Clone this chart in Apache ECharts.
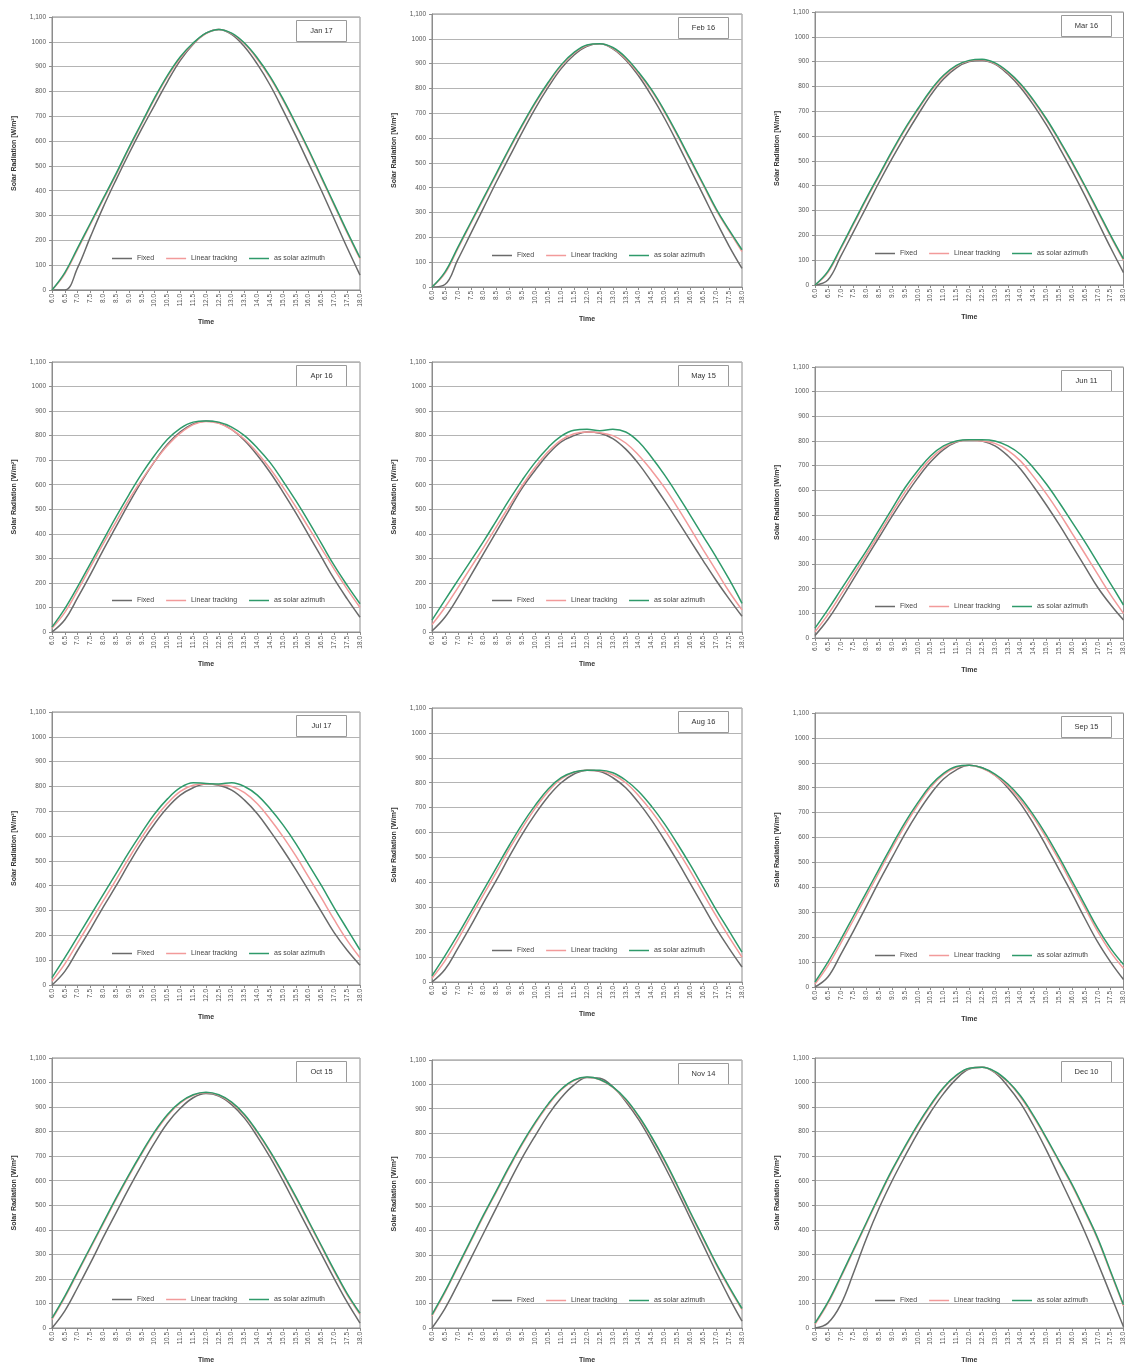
<!DOCTYPE html>
<html>
<head>
<meta charset="utf-8">
<script src="https://cdn.jsdelivr.net/npm/echarts@6/dist/echarts.min.js"></script>
<style>
html,body{margin:0;padding:0;background:#fff;}
#chart{width:1127px;height:1365px;}
</style>
</head>
<body>
<div id="chart"></div>
<script>
// ---- data ----
const times = ['6.0','6.5','7.0','7.5','8.0','8.5','9.0','9.5','10.0','10.5','11.0','11.5','12.0','12.5','13.0','13.5','14.0','14.5','15.0','15.5','16.0','16.5','17.0','17.5','18.0'];
const monthLabels = ['Jan 17','Feb 16','Mar 16','Apr 16','May 15','Jun 11','Jul 17','Aug 16','Sep 15','Oct 15','Nov 14','Dec 10'];
const seriesNames = ['Fixed','Linear tracking','as solar azimuth'];
const yTickLabels = ['0','100','200','300','400','500','600','700','800','900','1000','1,100'];

const fixedJan   = [0,0,90,215,335,445,550,650,745,840,925,990,1035,1050,1030,980,910,825,725,620,510,400,285,170,60];
const linearJan  = [0,65,165,265,365,465,570,670,770,860,935,992,1033,1050,1033,992,930,855,765,665,560,450,340,230,125];
const azimuthJan = [0,70,170,270,370,470,575,675,775,865,940,995,1035,1050,1035,995,935,860,770,670,565,455,345,235,130];

const fixedFeb   = [0,10,110,215,320,425,525,625,720,805,880,935,970,980,960,915,850,770,680,580,475,370,265,165,75];
const linearFeb  = [0,55,155,255,355,455,555,650,740,820,890,942,973,980,962,920,860,790,705,610,510,410,310,225,143];
const azimuthFeb = [0,60,160,260,360,460,560,655,745,825,895,945,975,980,965,925,865,795,710,615,515,415,315,230,150];

const fixedMar   = [0,20,115,215,315,415,510,600,685,765,830,875,900,905,890,850,795,725,645,555,460,360,255,150,50];
const linearMar  = [0,50,145,245,345,440,535,625,705,780,840,882,903,908,892,856,805,740,665,580,490,395,295,195,100];
const azimuthMar = [0,55,150,250,350,445,540,630,710,785,845,885,905,910,895,860,810,745,670,585,495,400,300,200,105];

const fixedApr   = [0,50,140,235,335,430,525,615,695,765,815,848,860,852,825,780,720,650,570,485,395,305,215,135,60];
const linearApr  = [15,80,170,265,360,450,540,620,695,760,810,845,858,850,825,785,730,665,590,510,425,340,255,175,100];
const azimuthApr = [20,95,185,280,375,470,560,645,720,785,830,855,860,855,835,800,750,690,615,535,450,360,270,190,115];

const fixedMay   = [4,60,140,230,320,410,500,588,660,725,775,800,815,810,788,745,685,612,535,455,372,290,210,135,64];
const linearMay  = [30,100,180,262,345,430,515,598,672,735,782,808,815,812,800,770,720,658,588,508,422,335,250,165,90];
const azimuthMay = [48,130,210,290,370,455,540,620,692,752,798,822,826,820,826,815,775,712,640,560,475,390,305,215,117];

const fixedJun   = [10,75,155,240,325,410,495,575,650,715,765,795,805,800,780,740,685,615,540,460,375,290,205,135,73];
const linearJun  = [25,95,175,258,340,425,510,592,665,728,772,797,803,800,790,762,718,655,585,508,425,342,258,175,100];
const azimuthJun = [40,115,195,275,355,440,525,610,680,740,780,800,805,805,800,780,745,690,625,550,470,390,305,220,134];

const fixedJul   = [0,55,140,225,315,400,490,575,650,715,765,795,810,805,785,745,690,620,545,465,380,295,210,140,80];
const linearJul  = [15,85,170,255,340,425,512,595,670,732,780,805,810,807,800,775,730,668,598,520,435,350,262,180,110];
const azimuthJul = [30,110,195,280,365,450,535,615,690,750,795,815,812,810,815,800,765,710,645,570,485,400,310,225,141];

const fixedAug   = [0,50,135,225,320,410,505,595,675,745,800,835,850,845,820,780,720,650,570,485,395,305,215,135,60];
const linearAug  = [15,85,170,262,352,442,535,620,698,765,815,842,850,848,832,800,748,685,612,530,445,355,265,180,100];
const azimuthAug = [25,105,190,280,370,460,550,635,710,775,820,843,850,850,840,810,765,705,635,555,470,380,290,205,120];

const fixedSep   = [0,40,130,225,325,425,520,615,700,775,835,872,890,880,850,800,735,655,565,470,375,275,180,100,30];
const linearSep  = [12,85,175,270,365,462,558,648,730,802,852,882,890,878,850,808,750,680,598,508,412,318,222,140,75];
const azimuthSep = [20,100,190,285,380,475,570,660,740,810,858,885,890,880,855,815,760,690,610,520,425,330,235,155,90];

const fixedOct   = [0,70,165,265,370,470,570,665,755,835,895,938,955,945,910,855,780,695,600,500,400,300,200,105,20];
const linearOct  = [35,125,225,325,425,525,620,710,795,865,917,948,958,948,917,866,796,715,625,530,430,330,230,135,55];
const azimuthOct = [40,130,230,330,430,530,625,715,800,870,920,950,960,950,920,870,800,720,630,535,435,335,235,140,60];

const fixedNov   = [0,80,180,285,390,495,600,700,790,875,945,998,1028,1025,990,930,855,765,665,560,450,340,230,125,28];
const linearNov  = [50,145,250,355,460,560,660,755,840,915,977,1016,1029,1019,987,936,866,780,685,580,470,365,260,165,75];
const azimuthNov = [55,150,255,360,465,565,665,760,845,920,980,1018,1030,1020,990,940,870,785,690,585,475,370,265,170,80];

const fixedDec   = [0,20,95,225,365,490,600,700,795,880,955,1015,1055,1062,1040,985,915,825,725,615,505,390,265,135,5];
const linearDec  = [15,100,205,315,425,535,640,735,825,905,977,1028,1057,1062,1043,1002,940,860,770,675,580,473,360,225,90];
const azimuthDec = [20,105,210,320,430,540,645,740,830,910,980,1030,1058,1062,1045,1005,945,865,775,680,585,478,365,230,95];

const panels = [
  [fixedJan, linearJan, azimuthJan], [fixedFeb, linearFeb, azimuthFeb], [fixedMar, linearMar, azimuthMar],
  [fixedApr, linearApr, azimuthApr], [fixedMay, linearMay, azimuthMay], [fixedJun, linearJun, azimuthJun],
  [fixedJul, linearJul, azimuthJul], [fixedAug, linearAug, azimuthAug], [fixedSep, linearSep, azimuthSep],
  [fixedOct, linearOct, azimuthOct], [fixedNov, linearNov, azimuthNov], [fixedDec, linearDec, azimuthDec]
];

// ---- layout (pixels) ----
const colLeft = [52, 432, 815];
const colWidth = [308, 310, 310];
const panelTop = [17, 14, 12, 362, 362, 367, 712, 708, 713, 1058, 1060, 1058];
const panelHeight = [273, 273, 273, 270, 270, 271, 273, 274, 274, 273, 272, 274];
const colors = ['#6a6a6a', '#f29a9a', '#2e9a6a'];

const grid = [], xAxis = [], yAxis = [], series = [], legend = [], graphic = [];
panels.forEach((p, i) => {
  const c = i % 3;
  const left = colLeft[c], top = panelTop[i], w = colWidth[c], h = panelHeight[i];
  grid.push({left: left, top: top, width: w, height: h, show: true, borderColor: '#8c8c8c', borderWidth: 1, containLabel: false});
  xAxis.push({
    type: 'category', gridIndex: i, data: times, boundaryGap: false,
    name: 'Time', nameLocation: 'middle', nameGap: 29,
    nameTextStyle: {fontSize: 7, fontWeight: 'bold', color: '#333', fontFamily: 'Liberation Sans'},
    axisLine: {lineStyle: {color: '#8c8c8c'}},
    axisTick: {show: true, interval: 0, length: 3, lineStyle: {color: '#8c8c8c'}},
    axisLabel: {interval: 0, rotate: 90, fontSize: 6.5, color: '#555', margin: 4, fontFamily: 'Liberation Sans'},
    splitLine: {show: false}
  });
  yAxis.push({
    type: 'value', gridIndex: i, min: 0, max: 1100, interval: 100,
    name: 'Solar Radiation [W/m²]', nameLocation: 'middle', nameGap: 34,
    nameTextStyle: {fontSize: 7, fontWeight: 'bold', color: '#333', fontFamily: 'Liberation Sans'},
    axisLine: {show: true, lineStyle: {color: '#8c8c8c'}},
    axisTick: {show: true, length: 3, lineStyle: {color: '#8c8c8c'}},
    axisLabel: {fontSize: 6.5, color: '#555', margin: 6, fontFamily: 'Liberation Sans',
      formatter: v => yTickLabels[Math.round(v / 100)]},
    splitLine: {show: true, lineStyle: {color: '#b4b4b4', width: 1}}
  });
  p.forEach((arr, k) => {
    series.push({
      type: 'line', name: seriesNames[k], xAxisIndex: i, yAxisIndex: i,
      data: arr, smooth: 0.4, symbol: 'none', showSymbol: false,
      lineStyle: {color: colors[k], width: 1.5}, itemStyle: {color: colors[k]},
      z: 2 + k, animation: false
    });
  });
  legend.push({
    left: left + 55, top: top + h - 40, icon: 'rect', itemWidth: 20, itemHeight: 1.5, itemGap: 12,
    data: seriesNames, textStyle: {fontSize: 7, color: '#444', fontFamily: 'Liberation Sans'},
    selectedMode: false
  });
  graphic.push({
    type: 'group', left: left + w - 64, top: top + 3,
    children: [
      {type: 'rect', shape: {x: 0, y: 0, width: 50, height: 21}, style: {fill: '#fff', stroke: '#9a9a9a', lineWidth: 1}},
      {type: 'text', style: {x: 25, y: 10.5, text: monthLabels[i], fontSize: 7.5, fill: '#333', align: 'center', verticalAlign: 'middle', fontFamily: 'Liberation Sans'}}
    ]
  });
});

const chart = echarts.init(document.getElementById('chart'), null, {renderer: 'canvas'});
chart.setOption({
  backgroundColor: '#fff',
  animation: false,
  grid: grid, xAxis: xAxis, yAxis: yAxis, series: series, legend: legend, graphic: graphic
});
</script>
</body>
</html>
